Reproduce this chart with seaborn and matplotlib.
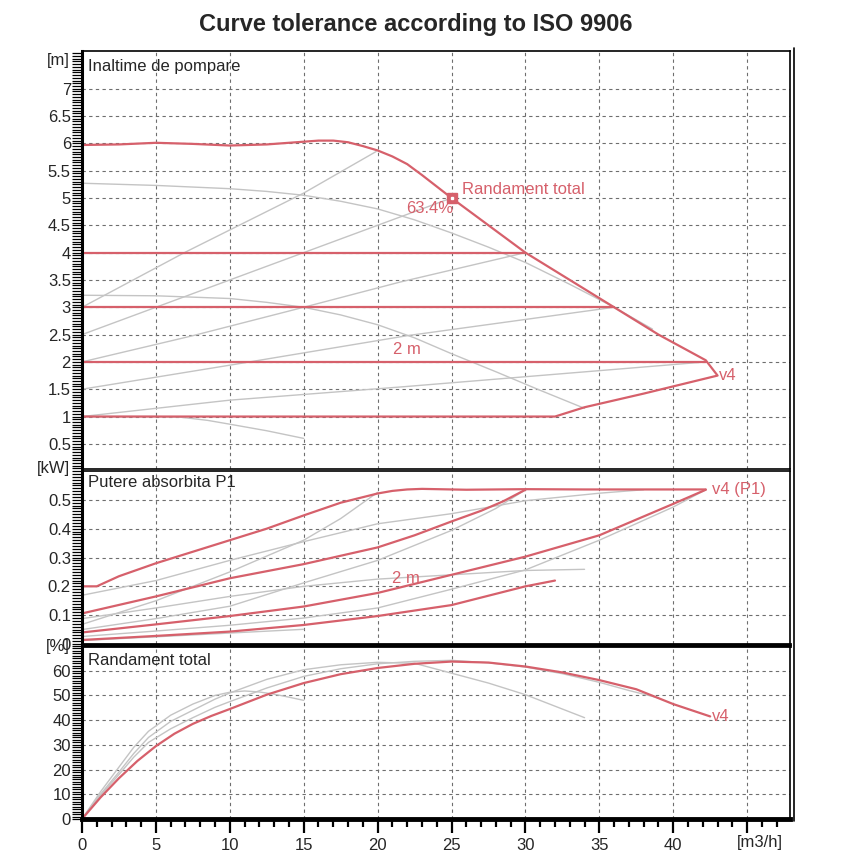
import matplotlib
matplotlib.use("Agg")
import matplotlib.pyplot as plt
import seaborn as sns
import numpy as np
from matplotlib.ticker import MultipleLocator, FuncFormatter
from matplotlib.lines import Line2D

sns.set_style("white")
plt.rcParams["font.family"] = ["Liberation Sans", "DejaVu Sans"]

RED = "#d6606b"
GREY = "#c4c4c4"
GRID = "#6e6e6e"

# ---- head [m] ----
q_max = [0, 2.5, 5, 7.5, 10, 12.5, 15, 16, 17, 18, 19, 20, 21, 22, 23, 24, 25, 27.5, 30, 33, 36, 39, 42.2, 43.0]
h_max = [5.97, 5.98, 6.01, 5.99, 5.96, 5.98, 6.03, 6.05, 6.05, 6.02, 5.95, 5.87, 5.76, 5.62, 5.42, 5.21, 5.0,
         4.5, 4.0, 3.5, 3.0, 2.5, 2.03, 1.75]
q_min = [43.0, 38, 34, 32, 0]
h_min = [1.75, 1.42, 1.17, 1.0, 1.0]
cp_levels = [4, 3, 2]
cp_end = [30, 36, 42.2]

# grey curves (proportional / constant speed)
head_grey = [
    ([0, 7, 15, 19.9], [3.0, 4.01, 5.09, 5.85]),
    ([0, 15, 21.5, 25], [2.5, 4.0, 4.65, 5.0]),
    ([0, 7.5, 15, 21.5, 30], [2.0, 2.48, 3.0, 3.46, 4.0]),
    ([0, 10, 22, 36], [1.5, 1.94, 2.48, 3.0]),
    ([0, 10, 21.5, 42.2], [1.0, 1.3, 1.54, 2.0]),
    ([0, 5, 10, 12.5, 15, 17.5, 20, 22.5, 25, 27.5, 30, 33, 36, 38.6],
     [5.27, 5.23, 5.17, 5.12, 5.05, 4.94, 4.8, 4.6, 4.36, 4.1, 3.82, 3.42, 3.0, 2.6]),
    ([0, 5, 10, 12.5, 15, 17.5, 20, 22.5, 25, 28, 31, 34],
     [3.22, 3.21, 3.16, 3.09, 3.0, 2.86, 2.68, 2.44, 2.15, 1.82, 1.48, 1.15]),
    ([0, 5, 6.6, 8.5, 10, 12.5, 15], [1.0, 1.0, 0.99, 0.93, 0.86, 0.74, 0.6]),
]
duty_q, duty_h, duty_eff = 25, 5.0, 63.4

# ---- power P1 [kW] ----
p1_red = [
    ([0, 1, 2.5, 5, 7.5, 10, 12.5, 15, 17.5, 20, 21, 22, 23, 26, 30, 34, 38, 42.2],
     [0.2, 0.2, 0.235, 0.28, 0.32, 0.36, 0.40, 0.446, 0.49, 0.522, 0.531, 0.536, 0.538, 0.535, 0.537, 0.536, 0.536, 0.536]),
    ([0, 5, 10, 15, 20, 22.5, 25, 27, 28.5, 30], [0.106, 0.165, 0.228, 0.277, 0.335, 0.377, 0.425, 0.462, 0.495, 0.535]),
    ([0, 5, 10, 15, 20, 25, 30, 35, 40, 42.2], [0.04, 0.068, 0.097, 0.13, 0.177, 0.24, 0.303, 0.377, 0.486, 0.535]),
    ([0, 5, 10, 15, 20, 25, 30, 32], [0.014, 0.028, 0.043, 0.066, 0.097, 0.135, 0.2, 0.22]),
]
p1_grey = [
    ([0, 5, 10, 15, 20, 25, 30, 35, 38], [0.169, 0.22, 0.29, 0.355, 0.417, 0.452, 0.497, 0.523, 0.535]),
    ([0, 5, 10, 15, 17.5, 20], [0.068, 0.15, 0.25, 0.36, 0.435, 0.526]),
    ([0, 5, 10, 15, 20, 25, 30, 34], [0.088, 0.125, 0.165, 0.2, 0.225, 0.24, 0.255, 0.259]),
    ([0, 5, 10, 15, 20, 25, 28, 30], [0.05, 0.088, 0.131, 0.212, 0.29, 0.394, 0.47, 0.535]),
    ([0, 5, 10, 15, 20, 25, 30, 35, 40, 42.2], [0.026, 0.045, 0.065, 0.09, 0.125, 0.19, 0.257, 0.36, 0.475, 0.535]),
    ([0, 5, 10, 15], [0.012, 0.025, 0.038, 0.051]),
]

# ---- efficiency [%] ----
eff_q = [0, 1.25, 2.5, 3.75, 5, 6.25, 7.5, 8.75, 10, 12.5, 15, 17.5, 20, 22.5, 25, 27.5, 30, 32.5, 35, 37.5, 40, 42.5]
eff_v4 = [0, 8.7, 16.5, 23.5, 29.5, 34.5, 38.5, 41.7, 44.5, 50.3, 55, 58.6, 61.1, 62.8, 63.7, 63.3, 61.7, 59.3,
          56.2, 52.5, 46.5, 41.5]
eff_grey = [
    ([0, 1.25, 2.5, 3.5, 4.5, 6, 7.5, 9, 10, 11, 12, 13, 14, 15],
     [0, 11, 21, 29, 35.5, 42, 46.5, 50, 51.3, 51.8, 51.4, 50.5, 49.3, 48]),
    ([0, 1.25, 2.5, 3.5, 4.5, 6, 7.5, 9, 10, 12.5, 15, 17.5, 20, 22.5, 25, 27.5, 30, 34],
     [0, 10, 19, 26.5, 33, 39.5, 44, 48.5, 51, 56.5, 60.4, 62.4, 63.4, 63, 59, 55, 50.3, 41]),
    ([0, 1.25, 2.5, 3.5, 4.5, 6, 7.5, 9, 10, 12.5, 15, 17.5, 20, 22.5, 25, 27.5, 30, 32.5, 35, 37, 39],
     [0, 9.5, 18, 25, 31, 36.5, 41, 45.2, 47.5, 53, 57.7, 60.8, 62.8, 63.8, 64.2, 63.2, 61.5, 58.8, 55.3, 52, 49]),
]

fig = plt.figure(figsize=(8.6, 8.6), dpi=100)
W = 860.0
left, width = 82 / W, 708 / W
ax1 = fig.add_axes([left, 1 - 469 / W, width, (469 - 51) / W])
ax2 = fig.add_axes([left, 1 - 644 / W, width, (644 - 471) / W])
ax3 = fig.add_axes([left, 1 - 819 / W, width, (819 - 646) / W])

FS = 12


def line(ax, x, y, color, lw):
    sns.lineplot(x=x, y=y, sort=False, estimator=None, color=color, linewidth=lw, ax=ax)


# head panel
for q, h in head_grey:
    line(ax1, q, h, GREY, 1.0)
line(ax1, [0] + q_max + q_min, [1.0] + h_max + h_min, RED, 1.6)
for lev, qe in zip(cp_levels, cp_end):
    line(ax1, [0, qe], [lev, lev], RED, 1.6)
ax1.plot([duty_q], [duty_h], marker="s", ms=7, mfc=RED, mec=RED, zorder=5)
ax1.plot([duty_q], [duty_h], marker="s", ms=2, mfc="white", mec="white", zorder=6)
ax1.text(duty_q + 0.7, duty_h + 0.16, "Randament total", color=RED, fontsize=FS, va="center")
ax1.text(duty_q + 0.1, duty_h - 0.2, f"{duty_eff}%", color=RED, fontsize=FS, ha="right", va="center")
ax1.text(22, 2.22, "2 m", color=RED, fontsize=FS, ha="center", va="center")
ax1.text(q_max[-1] + 0.1, h_max[-1], "v4", color=RED, fontsize=FS, va="center")

# power panel
for q, p in p1_grey:
    line(ax2, q, p, GREY, 1.0)
for q, p in p1_red:
    line(ax2, q, p, RED, 1.6)
ax2.text(21.9, 0.226, "2 m", color=RED, fontsize=FS, ha="center", va="center")
ax2.text(42.6, 0.537, "v4 (P1)", color=RED, fontsize=FS, va="center")

# efficiency panel
for q, e in eff_grey:
    line(ax3, q, e, GREY, 1.0)
line(ax3, eff_q, eff_v4, RED, 1.6)
ax3.text(42.6, 41.3, "v4", color=RED, fontsize=FS, va="center")

# axes cosmetics
xmax = 47.9
configs = [
    (ax1, (0.04, 7.69), np.arange(0.5, 7.01, 0.5), 0.05, "Inaltime de pompare", 0.962, "[m]", 0.978),
    (ax2, (0, 0.6), np.arange(0, 0.51, 0.1), 0.01, "Putere absorbita P1", 0.931, "[kW]", 1.012),
    (ax3, (0, 70), np.arange(0, 61, 10), 1, "Randament total", 0.919, "[%]", 1.0),
]
for ax, ylim, yt, minor, title, ty, unit, uy in configs:
    ax.set_xlim(0, xmax)
    ax.set_ylim(*ylim)
    ax.set_yticks(yt)
    ax.yaxis.set_minor_locator(MultipleLocator(minor))
    ax.yaxis.set_major_formatter(FuncFormatter(lambda v, p: f"{v:g}"))
    ax.set_xticks(np.arange(0, 46, 5))
    ax.xaxis.set_minor_locator(MultipleLocator(1))
    ax.grid(True, which="major", linestyle=(0, (3, 3)), color=GRID, linewidth=0.8)
    ax.tick_params(axis="y", which="both", left=True, direction="out", length=7, width=0.9,
                   color="black", labelsize=FS, pad=1)
    for s in ax.spines.values():
        s.set_color("black")
        s.set_linewidth(1.2)
    ax.spines["left"].set_linewidth(2.2)
    ax.text(0.008, ty, title, transform=ax.transAxes, fontsize=FS, va="center", ha="left")
    ax.text(-0.017, uy, unit, transform=ax.transAxes, fontsize=FS, ha="right", va="center")
    ax.set_xlabel("")
    ax.set_ylabel("")

for ax in (ax1, ax2):
    ax.tick_params(axis="x", which="both", bottom=False, length=0, labelbottom=False)

ax2.spines["bottom"].set_linewidth(2.0)
ax3.spines["top"].set_linewidth(2.0)
ax3.spines["bottom"].set_linewidth(3.5)
ax3.tick_params(axis="x", which="major", bottom=True, direction="out", length=10, width=1.6,
                color="black", labelsize=FS, pad=4)
ax3.tick_params(axis="x", which="minor", bottom=True, direction="out", length=6, width=1.6, color="black")
ax3.set_xticklabels([f"{v:g}" for v in np.arange(0, 41, 5)] + [""])
fig.text(760 / W, 1 - 842 / W, "[m3/h]", fontsize=FS, ha="center", va="center")

# outer frame line on the right (double border look)
fig.add_artist(Line2D([793.5 / W, 793.5 / W], [1 - 48 / W, 1 - 821 / W], color="black", lw=1.2))

fig.text(0.484, 1 - 25 / W, "Curve tolerance according to ISO 9906", fontsize=17,
         fontweight="bold", ha="center", va="center")

fig.savefig("out.png", dpi=100)
